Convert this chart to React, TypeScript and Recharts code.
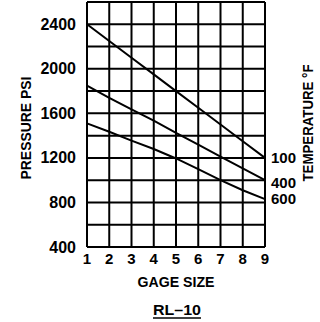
import React from 'react'
import { LineChart, Line, XAxis, YAxis, CartesianGrid, Customized } from 'recharts'

const gageSizes = [1, 2, 3, 4, 5, 6, 7, 8, 9]
const temp100 = [2400, 2250, 2100, 1950, 1800, 1650, 1500, 1350, 1200]
const temp400 = [1850, 1740, 1636, 1534, 1424, 1320, 1212, 1105, 1000]
const temp600 = [1510, 1435, 1355, 1280, 1195, 1100, 1000, 910, 830]
const yTicks = [400, 600, 800, 1000, 1200, 1400, 1600, 1800, 2000, 2200, 2400, 2600]
const yLabels = [400, 800, 1200, 1600, 2000, 2400]

const data = gageSizes.map((g, i) => ({
  gage: g,
  t100: temp100[i],
  t400: temp400[i],
  t600: temp600[i],
}))

const FONT = '"Liberation Sans", Arial, sans-serif'

const YTick = (props: any) => {
  const { x, y, payload } = props
  if (!yLabels.includes(Number(payload.value))) return null
  return (
    <text x={x} y={y} dy={5.5} textAnchor="end" fontFamily={FONT} fontSize={16} fontWeight="bold" fill="#000">
      {payload.value}
    </text>
  )
}

const XTick = (props: any) => {
  const { x, y, payload } = props
  return (
    <text x={x} y={y} dy={14} textAnchor="middle" fontFamily={FONT} fontSize={15} fontWeight="bold" fill="#000">
      {payload.value}
    </text>
  )
}

const endLabel = (text: string, dy: number) => (props: any) => {
  const { x, y, index } = props
  if (index !== gageSizes.length - 1) return null
  return (
    <text x={x + 6} y={y + dy} dy={5} textAnchor="start" fontFamily={FONT} fontSize={15} fontWeight="bold" fill="#000">
      {text}
    </text>
  )
}

const Titles = () => (
  <g fontFamily={FONT} fontSize={15} fontWeight="bold" fill="#000">
    <text x={176} y={287} textAnchor="middle" textLength={77} lengthAdjust="spacingAndGlyphs">GAGE  SIZE</text>
    <text x={177} y={315} textAnchor="middle" textLength={48} lengthAdjust="spacingAndGlyphs">RL–10</text>
    <line x1={153} x2={201} y1={318} y2={318} stroke="#000" strokeWidth={1.5} />
    <text x={26} y={128} dy={5} textAnchor="middle" textLength={103} lengthAdjust="spacingAndGlyphs" transform="rotate(-90 26 128)">PRESSURE  PSI</text>
    <text x={308} y={123} dy={5} textAnchor="middle" textLength={117} lengthAdjust="spacingAndGlyphs" transform="rotate(-90 308 123)">TEMPERATURE °F</text>
  </g>
)

export default function App() {
  return (
    <div style={{ position: 'absolute', left: 0, top: 0, background: '#fff' }}>
      <LineChart width={320} height={322} data={data} margin={{ top: 2, right: 55, left: 7, bottom: 45 }}>
        <CartesianGrid stroke="#000" strokeWidth={2} />
        <XAxis
          dataKey="gage"
          type="number"
          domain={[1, 9]}
          ticks={gageSizes}
          interval={0}
          height={30}
          tickSize={0}
          tickMargin={3}
          axisLine={false}
          tick={<XTick />}
        />
        <YAxis
          type="number"
          domain={[400, 2600]}
          ticks={yTicks}
          interval={0}
          width={80}
          tickSize={0}
          tickMargin={11}
          axisLine={false}
          tick={<YTick />}
        />
        <Line dataKey="t100" stroke="#000" strokeWidth={2} dot={false} isAnimationActive={false} label={endLabel('100', 0)} />
        <Line dataKey="t400" stroke="#000" strokeWidth={2} dot={false} isAnimationActive={false} label={endLabel('400', 3)} />
        <Line dataKey="t600" stroke="#000" strokeWidth={2} dot={false} isAnimationActive={false} label={endLabel('600', 0)} />
        <Customized component={Titles} />
      </LineChart>
    </div>
  )
}
